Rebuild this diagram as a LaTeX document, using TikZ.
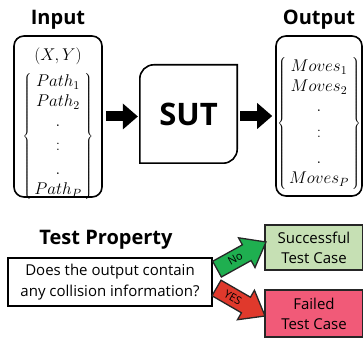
\RequirePackage{fix-cm}
\documentclass[tikz,border=0pt]{standalone}
\usepackage{fontspec}
\setmainfont{Open Sans}
\usetikzlibrary{positioning,calc,arrows.meta}
\definecolor{okgreen}{HTML}{1FAF50}
\definecolor{okfill}{HTML}{C6E0B4}
\definecolor{badred}{HTML}{E0392C}
\definecolor{badfill}{HTML}{F15A78}
\tikzset{
  iobox/.style={draw,line width=1.6pt,rounded corners=10pt,minimum width=88pt,minimum height=161pt},
  title/.style={font=\fontsize{20}{24}\selectfont\bfseries,inner sep=1pt},
  mathtxt/.style={font=\fontsize{17}{20}\selectfont,inner sep=0pt},
  blockarrow/.style={line width=10pt,-{Triangle[length=15pt,width=26pt,line width=0pt]}},
  result/.style={draw=black!85,line width=1.6pt,minimum width=98pt,align=center,
    font=\fontsize{15}{20}\selectfont,inner sep=0pt},
  verdict/.style={draw=black!85,line width=1.3pt,line join=miter},
  verdicttxt/.style={font=\fontsize{11}{12}\selectfont,inner sep=0pt}
}

\begin{document}
\begin{tikzpicture}[x=1pt,y=1pt]
    \useasboundingbox (0,0) rectangle (363,342);

    % input side
    \node [iobox] (inbox) at (58,225.5) {};
    \node [title, above=5pt of inbox] (intitle) {Input};
    \node [mathtxt] (inxy) at (58,286) {$(X,Y)$};
    \node [mathtxt, below=8pt of inxy] (inlist)
        {$\left\{\begin{array}{@{\,}c@{\,}} Path_1\\ Path_2\\ .\\[4pt] :\\[4pt] .\\ Path_P \end{array}\right\}$};

    % system under test
    \node [minimum width=97pt, minimum height=98pt, font=\fontsize{31}{36}\selectfont\bfseries] (sut) at (188.5,228) {SUT};
    \draw [line width=1.6pt] ($(sut.north west)+(0,-14pt)$) arc [start angle=180, end angle=90, radius=14pt]
        -- (sut.north east) -- ($(sut.south east)+(0,14pt)$) arc [start angle=0, end angle=-90, radius=14pt]
        -- (sut.south west) -- cycle;

    % output side
    \node [iobox, minimum width=86pt, minimum height=160pt] (outbox) at (319,226) {};
    \node [title, above=5pt of outbox] (outtitle) {Output};
    \node [mathtxt] (outlist) at (319,218.5)
        {$\left\{\begin{array}{@{\,}c@{\,}} Moves_1\\ Moves_2\\ .\\[6pt] :\\[6pt] .\\ Moves_P \end{array}\right\}$};

    \draw [blockarrow] ($(inbox.east)+(3pt,0)$) -- ($(sut.west |- inbox.east)+(-2pt,0)$);
    \draw [blockarrow] ($(sut.east |- outbox.west)+(3pt,0)$) -- ($(outbox.west)+(-3pt,0)$);

    % test property
    \node [title] (proptitle) at (106,102) {Test Property};
    \node [draw, line width=1.6pt, minimum width=204pt, minimum height=48pt, align=center,
        font=\fontsize{15}{21}\selectfont, inner sep=0pt] (question) at (110,60)
        {Does the output contain\\any collision information?};

    \node [result, fill=okfill, minimum height=45pt] (success) at (314,94.5) {Successful\\Test Case};
    \node [result, fill=badfill, minimum height=47pt] (failed) at (314,28.5) {Failed\\Test Case};

    % verdict arrows, tip at the origin of each scope
    \begin{scope}[shift={(266,100)}, rotate=29, transform shape]
        \draw [verdict, fill=okgreen] (0,0) -- (-22,17) -- (-22,9) -- (-56,9) -- (-56,-9) -- (-22,-9) -- (-22,-17) -- cycle;
        \node [verdicttxt] (noarrow) at (-35,0) {No};
    \end{scope}
    \begin{scope}[shift={(265,26)}, rotate=-30, transform shape]
        \draw [verdict, fill=badred] (0,0) -- (-22,17) -- (-22,9) -- (-56,9) -- (-56,-9) -- (-22,-9) -- (-22,-17) -- cycle;
        \node [verdicttxt] (yesarrow) at (-37,0) {YES};
    \end{scope}
\end{tikzpicture}
\end{document}
